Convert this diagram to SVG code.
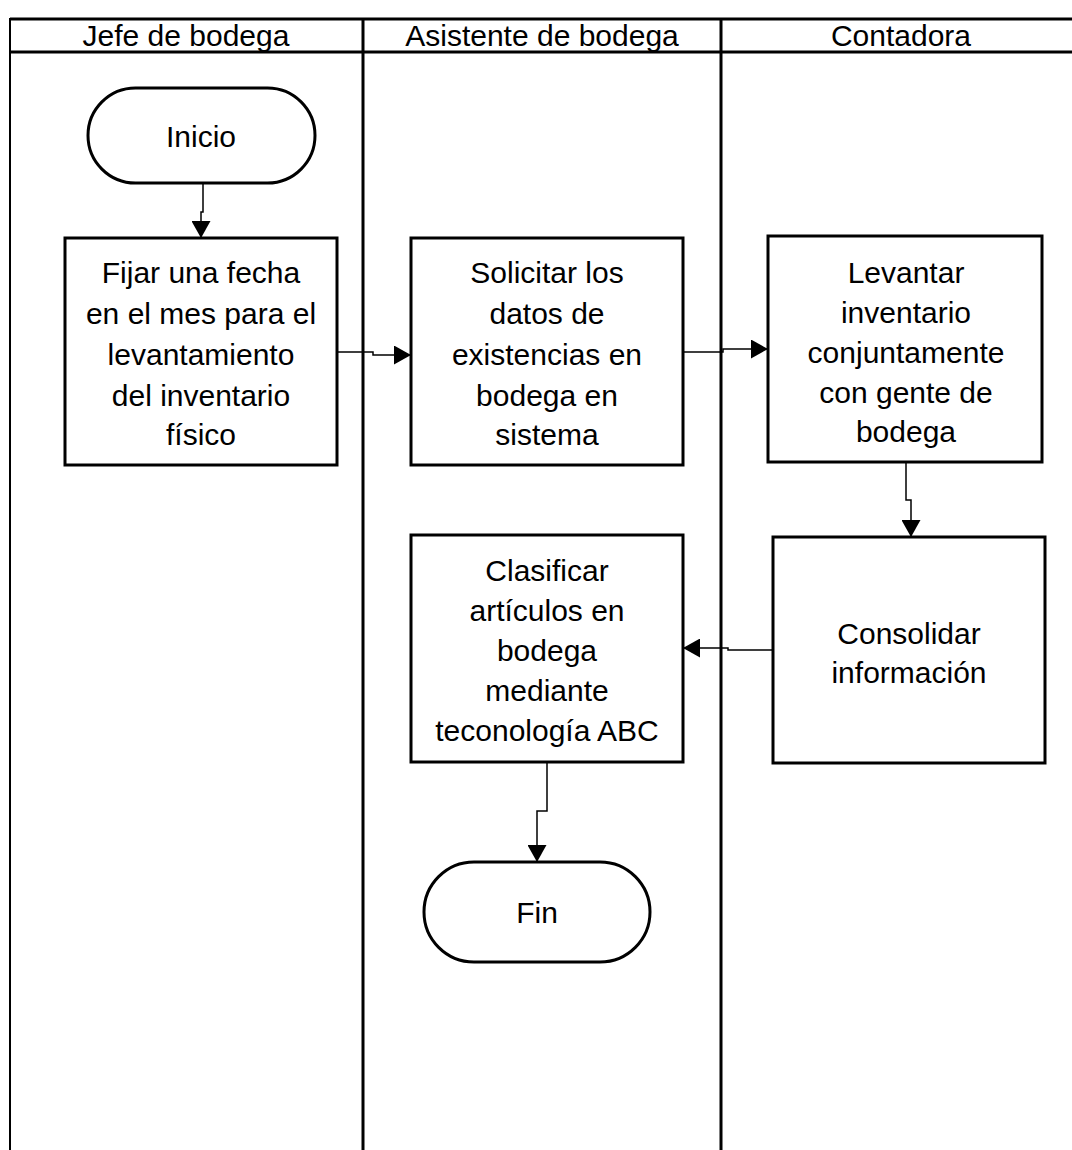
<svg xmlns="http://www.w3.org/2000/svg" width="1072" height="1150" viewBox="0 0 1072 1150">
  <style>
    .lane { stroke: #000; stroke-width: 3; fill: none; }
    .box { fill: #fff; stroke: #000; stroke-width: 3; }
    .conn { fill: none; stroke: #000; stroke-width: 1.5; }
    text { font-family: "Liberation Sans", Arial, sans-serif; font-size: 30px; fill: #000; text-anchor: middle; }
  </style>
  <defs>
    <marker id="arrowBig" viewBox="0 0 17 19" refX="17" refY="9.5" markerWidth="17" markerHeight="19" markerUnits="userSpaceOnUse" orient="auto">
      <path d="M0,0 L17,9.5 L0,19 z" fill="#000"/>
    </marker>
  </defs>
  <rect width="1072" height="1150" fill="#fff"/>

  <!-- swimlane frame -->
  <g id="lanes">
    <line class="lane" x1="10" y1="19" x2="1072" y2="19"/>
    <line class="lane" x1="10" y1="52" x2="1072" y2="52"/>
    <line class="lane" x1="10" y1="18" x2="10" y2="1150" style="stroke-width:2"/>
    <line class="lane" x1="363" y1="18" x2="363" y2="1150"/>
    <line class="lane" x1="721" y1="18" x2="721" y2="1150"/>
    <text x="186" y="46">Jefe de bodega</text>
    <text x="542" y="46">Asistente de bodega</text>
    <text x="901" y="46">Contadora</text>
  </g>

  <!-- connectors -->
  <g id="connectors">
    <path class="conn" marker-end="url(#arrowBig)" d="M203,183 V212 H201 V238"/>
    <path class="conn" marker-end="url(#arrowBig)" d="M337,352 H373 V355 H411"/>
    <path class="conn" marker-end="url(#arrowBig)" d="M683,352 H723 V349 H768"/>
    <path class="conn" marker-end="url(#arrowBig)" d="M906,462 V500 H911 V537"/>
    <path class="conn" marker-end="url(#arrowBig)" d="M773,650 H728 V648 H683"/>
    <path class="conn" marker-end="url(#arrowBig)" d="M547,762 V811 H537 V862"/>
  </g>

  <g id="inicio">
    <rect class="box" x="88" y="88" width="227" height="95" rx="47.5" ry="47.5"/>
    <text x="201" y="147">Inicio</text>
  </g>

  <g id="fijar-fecha">
    <rect class="box" x="65" y="238" width="272" height="227"/>
    <text x="201" y="283">Fijar una fecha</text>
    <text x="201" y="324">en el mes para el</text>
    <text x="201" y="365">levantamiento</text>
    <text x="201" y="406">del inventario</text>
    <text x="201" y="445">físico</text>
  </g>

  <g id="solicitar-datos">
    <rect class="box" x="411" y="238" width="272" height="227"/>
    <text x="547" y="283">Solicitar los</text>
    <text x="547" y="324">datos de</text>
    <text x="547" y="365">existencias en</text>
    <text x="547" y="406">bodega en</text>
    <text x="547" y="445">sistema</text>
  </g>

  <g id="levantar-inventario">
    <rect class="box" x="768" y="236" width="274" height="226"/>
    <text x="906" y="283">Levantar</text>
    <text x="906" y="323">inventario</text>
    <text x="906" y="363">conjuntamente</text>
    <text x="906" y="403">con gente de</text>
    <text x="906" y="442">bodega</text>
  </g>

  <g id="consolidar">
    <rect class="box" x="773" y="537" width="272" height="226"/>
    <text x="909" y="644">Consolidar</text>
    <text x="909" y="683">información</text>
  </g>

  <g id="clasificar">
    <rect class="box" x="411" y="535" width="272" height="227"/>
    <text x="547" y="581">Clasificar</text>
    <text x="547" y="621">artículos en</text>
    <text x="547" y="661">bodega</text>
    <text x="547" y="701">mediante</text>
    <text x="547" y="741">teconología ABC</text>
  </g>

  <g id="fin">
    <rect class="box" x="424" y="862" width="226" height="100" rx="50" ry="50"/>
    <text x="537" y="923">Fin</text>
  </g>
</svg>
